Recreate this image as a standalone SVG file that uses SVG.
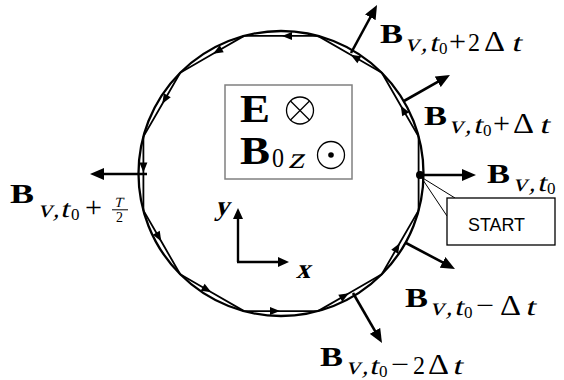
<svg xmlns="http://www.w3.org/2000/svg" width="564" height="380" viewBox="0 0 564 380">
<style>
text{font-family:"Liberation Serif","Times New Roman",serif;fill:#000}
.bm{font-weight:bold}
.s25{font-size:25px}
.s29{font-size:29px}
.s17{font-size:17px}
.chord{fill:none;stroke:#000;stroke-width:1.8;marker-mid:url(#ch)}
.vec{stroke:#000;stroke-width:2.6;fill:none;marker-end:url(#arr)}
.ax{stroke:#000;stroke-width:2.4;fill:none;marker-end:url(#axh)}
</style>
<defs>
<marker id="ch" markerUnits="userSpaceOnUse" markerWidth="10" markerHeight="8" viewBox="0 0 10 8" refX="11" refY="4" orient="auto" overflow="visible"><path d="M0,0 L10,4 L0,8 z" fill="#000"/></marker>
<marker id="arr" markerUnits="userSpaceOnUse" markerWidth="14" markerHeight="12" viewBox="0 0 14 12" refX="6" refY="6" orient="auto"><path d="M0,0 L14,6 L0,12 z" fill="#000"/></marker>
<marker id="axh" markerUnits="userSpaceOnUse" markerWidth="11" markerHeight="10" viewBox="0 0 11 10" refX="4" refY="5" orient="auto"><path d="M0,0 L11,5 L0,10 z" fill="#000"/></marker>
</defs>
<rect width="564" height="380" fill="#fff"/>

<g id="orbit">
<circle cx="281" cy="173.5" r="142.5" fill="none" stroke="#000" stroke-width="2.3"/>
<path d="M418.6,210.4 L418.6,136.6" fill="none" stroke="#000" stroke-width="1.8"/>
<path class="chord" d="M418.6,136.6 L400.2,104.7 L381.8,72.7"/>
<path class="chord" d="M381.8,72.7 L349.8,54.3 L317.9,35.9"/>
<path class="chord" d="M317.9,35.9 L281,35.9 L244.1,35.9"/>
<path class="chord" d="M244.1,35.9 L212.2,54.3 L180.2,72.7"/>
<path class="chord" d="M180.2,72.7 L161.8,104.7 L143.4,136.6"/>
<path class="chord" d="M143.4,136.6 L143.4,173.5 L143.4,210.4"/>
<path class="chord" d="M143.4,210.4 L161.8,242.3 L180.2,274.3"/>
<path class="chord" d="M180.2,274.3 L212.2,292.7 L244.1,311.1"/>
<path class="chord" d="M244.1,311.1 L281,311.1 L317.9,311.1"/>
<path class="chord" d="M317.9,311.1 L349.8,292.7 L381.8,274.3"/>
<path class="chord" d="M381.8,274.3 L400.2,242.3 L418.6,210.4"/>
</g>

<g id="fields">
<rect x="225" y="85" width="127" height="94" fill="none" stroke="#808080" stroke-width="1.5"/>
<text class="bm" x="240" y="122" font-size="39" textLength="30" lengthAdjust="spacingAndGlyphs">E</text>
<circle cx="300" cy="110.5" r="13.5" fill="none" stroke="#000" stroke-width="1.3"/>
<path d="M290.5,101 L309.5,120 M309.5,101 L290.5,120" stroke="#000" stroke-width="1.3"/>
<text class="bm" x="240" y="164" font-size="40" textLength="30" lengthAdjust="spacingAndGlyphs">B</text>
<text x="272" y="167" font-size="28" textLength="12" lengthAdjust="spacingAndGlyphs">0</text>
<text transform="translate(288,168) skewX(-14)" font-size="30" textLength="16" lengthAdjust="spacingAndGlyphs">z</text>
<circle cx="331" cy="155" r="13.5" fill="none" stroke="#000" stroke-width="1.3"/>
<circle cx="331" cy="155" r="2.8" fill="#000"/>
</g>

<g id="axes">
<line class="ax" x1="238" y1="262" x2="238" y2="215"/>
<line class="ax" x1="237" y1="262" x2="282" y2="262"/>
<text class="bm" transform="translate(215,215) skewX(-14)" font-size="28">y</text>
<text class="bm" transform="translate(296,278) skewX(-14)" font-size="28">x</text>
</g>

<g id="connectors">
<line class="vec" x1="421" y1="175" x2="468" y2="175"/>
<line class="vec" x1="404" y1="101" x2="443" y2="78.9"/>
<line class="vec" x1="351" y1="53" x2="373.2" y2="12"/>
<line class="vec" x1="147" y1="174" x2="98" y2="174"/>
<line class="vec" x1="406" y1="243" x2="447.9" y2="265.2"/>
<line class="vec" x1="353" y1="293" x2="378" y2="336.1"/>
<line x1="421" y1="177" x2="455" y2="198" stroke="#000" stroke-width="1"/>
<line x1="421" y1="177" x2="447" y2="216" stroke="#000" stroke-width="1"/>
</g>

<g id="start">
<circle cx="420" cy="175" r="4" fill="#000"/>
<rect x="447" y="198" width="108" height="47" fill="#fff" stroke="#000" stroke-width="1.3"/>
<text x="496.5" y="231" style="font-family:'Liberation Sans',Arial,sans-serif" font-size="19" text-anchor="middle" textLength="57" lengthAdjust="spacingAndGlyphs">START</text>
</g>

<g id="label-t0">
<text class="bm" x="487" y="183" font-size="28" textLength="23" lengthAdjust="spacingAndGlyphs">B</text>
<text class="s25" transform="translate(513,190.5) skewX(-14)" textLength="14" lengthAdjust="spacingAndGlyphs">v</text>
<text class="s25" transform="translate(529,190.5) skewX(-14)">,</text>
<text class="s25" transform="translate(537,190.5) skewX(-14)" textLength="9" lengthAdjust="spacingAndGlyphs">t</text>
<text class="s17" x="547" y="194">0</text>
</g>

<g id="label-t0-plus-dt">
<text class="bm" x="424" y="125" font-size="28" textLength="23" lengthAdjust="spacingAndGlyphs">B</text>
<text class="s25" transform="translate(449,132.5) skewX(-14)" textLength="14" lengthAdjust="spacingAndGlyphs">v</text>
<text class="s25" transform="translate(465,132.5) skewX(-14)">,</text>
<text class="s25" transform="translate(473,132.5) skewX(-14)" textLength="9" lengthAdjust="spacingAndGlyphs">t</text>
<text class="s17" x="483" y="136">0</text>
<text class="s29" x="493" y="132.5" textLength="17" lengthAdjust="spacingAndGlyphs">+</text>
<text class="s29" x="513" y="132.5" textLength="21" lengthAdjust="spacingAndGlyphs">Δ</text>
<text class="s25" transform="translate(539,132.5) skewX(-14)" textLength="10" lengthAdjust="spacingAndGlyphs">t</text>
</g>

<g id="label-t0-plus-2dt">
<text class="bm" x="380" y="43" font-size="28" textLength="23" lengthAdjust="spacingAndGlyphs">B</text>
<text class="s25" transform="translate(405,50.5) skewX(-14)" textLength="14" lengthAdjust="spacingAndGlyphs">v</text>
<text class="s25" transform="translate(421,50.5) skewX(-14)">,</text>
<text class="s25" transform="translate(429,50.5) skewX(-14)" textLength="9" lengthAdjust="spacingAndGlyphs">t</text>
<text class="s17" x="439" y="54">0</text>
<text class="s29" x="449" y="50.5" textLength="17" lengthAdjust="spacingAndGlyphs">+</text>
<text class="s25" x="468" y="50.5" textLength="12" lengthAdjust="spacingAndGlyphs">2</text>
<text class="s29" x="484" y="50.5" textLength="21" lengthAdjust="spacingAndGlyphs">Δ</text>
<text class="s25" transform="translate(511,50.5) skewX(-14)" textLength="10" lengthAdjust="spacingAndGlyphs">t</text>
</g>

<g id="label-t0-minus-dt">
<text class="bm" x="405" y="307" font-size="28" textLength="23" lengthAdjust="spacingAndGlyphs">B</text>
<text class="s25" transform="translate(430,314.5) skewX(-14)" textLength="14" lengthAdjust="spacingAndGlyphs">v</text>
<text class="s25" transform="translate(446,314.5) skewX(-14)">,</text>
<text class="s25" transform="translate(454,314.5) skewX(-14)" textLength="9" lengthAdjust="spacingAndGlyphs">t</text>
<text class="s17" x="464" y="318">0</text>
<text class="s29" x="476" y="314.5" textLength="18" lengthAdjust="spacingAndGlyphs">−</text>
<text class="s29" x="500" y="314.5" textLength="21" lengthAdjust="spacingAndGlyphs">Δ</text>
<text class="s25" transform="translate(525,314.5) skewX(-14)" textLength="10" lengthAdjust="spacingAndGlyphs">t</text>
</g>

<g id="label-t0-minus-2dt">
<text class="bm" x="320" y="366" font-size="28" textLength="23" lengthAdjust="spacingAndGlyphs">B</text>
<text class="s25" transform="translate(346,373.5) skewX(-14)" textLength="14" lengthAdjust="spacingAndGlyphs">v</text>
<text class="s25" transform="translate(362,373.5) skewX(-14)">,</text>
<text class="s25" transform="translate(369,373.5) skewX(-14)" textLength="9" lengthAdjust="spacingAndGlyphs">t</text>
<text class="s17" x="379" y="377">0</text>
<text class="s29" x="391" y="373.5" textLength="18" lengthAdjust="spacingAndGlyphs">−</text>
<text class="s25" x="413" y="373.5" textLength="12" lengthAdjust="spacingAndGlyphs">2</text>
<text class="s29" x="428" y="373.5" textLength="21" lengthAdjust="spacingAndGlyphs">Δ</text>
<text class="s25" transform="translate(452,373.5) skewX(-14)" textLength="10" lengthAdjust="spacingAndGlyphs">t</text>
</g>

<g id="label-t0-plus-half-T">
<text class="bm" x="10" y="203" font-size="28" textLength="24" lengthAdjust="spacingAndGlyphs">B</text>
<text class="s25" transform="translate(38,216.5) skewX(-14)" textLength="14" lengthAdjust="spacingAndGlyphs">v</text>
<text class="s25" transform="translate(53,216.5) skewX(-14)">,</text>
<text class="s25" transform="translate(60,216.5) skewX(-14)" textLength="9" lengthAdjust="spacingAndGlyphs">t</text>
<text class="s17" x="71" y="220">0</text>
<text class="s29" x="85" y="216.5" textLength="17" lengthAdjust="spacingAndGlyphs">+</text>
<text transform="translate(114,207) skewX(-14)" font-size="14">T</text>
<line x1="112" y1="209.8" x2="128" y2="209.8" stroke="#000" stroke-width="1"/>
<text x="116" y="222" font-size="14">2</text>
</g>
</svg>
